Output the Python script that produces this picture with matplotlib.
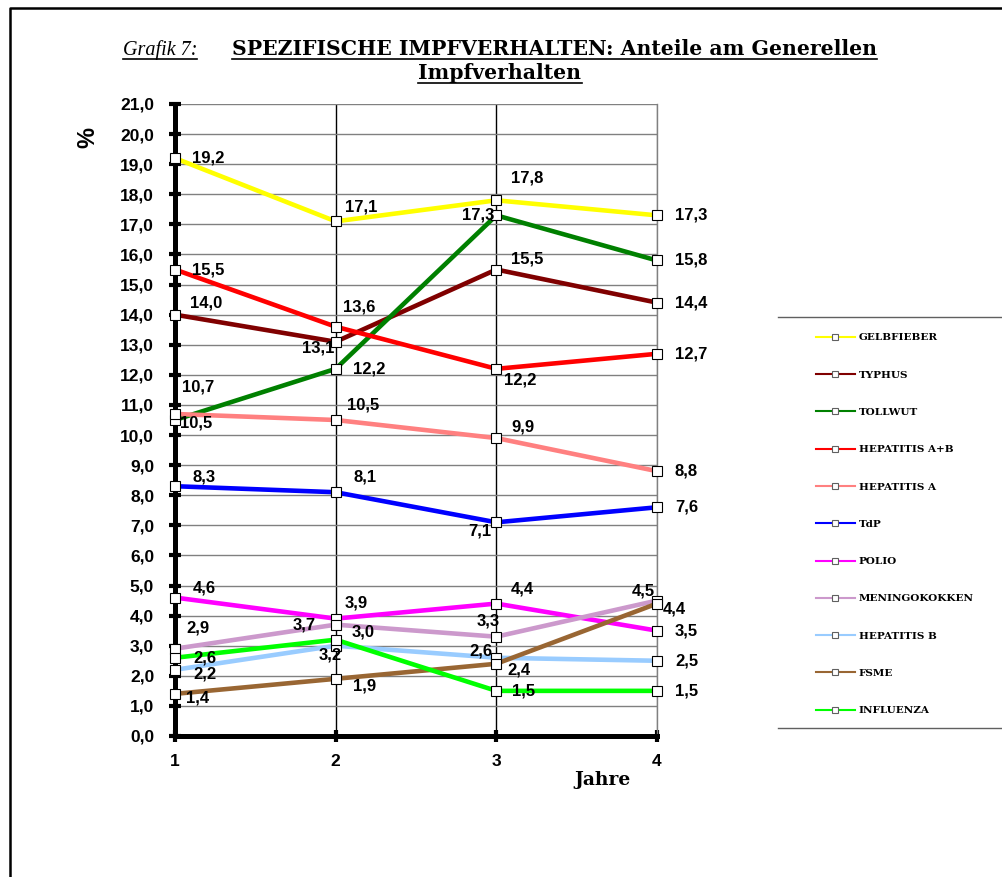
import matplotlib
matplotlib.use("Agg")
import matplotlib.pyplot as plt
from matplotlib.lines import Line2D

W, H = 1003, 877

years = [1, 2, 3, 4]
series_names = ["GELBFIEBER", "TYPHUS", "TOLLWUT", "HEPATITIS A+B", "HEPATITIS A",
                "TdP", "POLIO", "MENINGOKOKKEN", "HEPATITIS B", "FSME", "INFLUENZA"]
gelbfieber = [19.2, 17.1, 17.8, 17.3]
typhus = [14.0, 13.1, 15.5, 14.4]
tollwut = [10.5, 12.2, 17.3, 15.8]
hepatitis_ab = [15.5, 13.6, 12.2, 12.7]
hepatitis_a = [10.7, 10.5, 9.9, 8.8]
tdp = [8.3, 8.1, 7.1, 7.6]
polio = [4.6, 3.9, 4.4, 3.5]
meningokokken = [2.9, 3.7, 3.3, 4.5]
hepatitis_b = [2.2, 3.0, 2.6, 2.5]
fsme = [1.4, 1.9, 2.4, 4.4]
influenza = [2.6, 3.2, 1.5, 1.5]
all_values = [gelbfieber, typhus, tollwut, hepatitis_ab, hepatitis_a, tdp,
              polio, meningokokken, hepatitis_b, fsme, influenza]

colors = ["#FFFF00", "#800000", "#008000", "#FF0000", "#FF8080", "#0000FF",
          "#FF00FF", "#CC99CC", "#99CCFF", "#996633", "#00FF00"]

# label offsets in pixels (dx, dy, ha) for each point
label_pos = [
    [(17, 0, "left"), (9, 14, "left"), (15, 22, "left"), (18, 0, "left")],
    [(15, 12, "left"), (-1, -6, "right"), (15, 11, "left"), (18, 0, "left")],
    [(5, -3, "left"), (17, 0, "left"), (-2, 0, "right"), (18, 0, "left")],
    [(17, 0, "left"), (7, 20, "left"), (8, -11, "left"), (18, 0, "left")],
    [(7, 27, "left"), (11, 15, "left"), (15, 11, "left"), (18, 0, "left")],
    [(18, 9, "left"), (18, 15, "left"), (-5, -9, "right"), (18, 0, "left")],
    [(18, 10, "left"), (9, 16, "left"), (14, 15, "left"), (18, 0, "left")],
    [(11, 21, "left"), (-20, 0, "right"), (3, 16, "right"), (-2, 10, "right")],
    [(18, -4, "left"), (16, 14, "left"), (-4, 7, "right"), (18, 0, "left")],
    [(11, -4, "left"), (17, -7, "left"), (11, -6, "left"), (6, -5, "left")],
    [(18, 0, "left"), (6, -15, "right"), (16, 0, "left"), (18, 0, "left")],
]

def fx(px):
    return px / W

def fy(py):
    return 1 - py / H

fig = plt.figure(figsize=(W / 100, H / 100), dpi=100)
ax = fig.add_axes([fx(175), fy(736), fx(657) - fx(175), fy(104) - fy(736)])

for vals, name, col, pos in zip(all_values, series_names, colors, label_pos):
    ax.plot(years, vals, color=col, lw=3.3, marker="s", ms=7, mfc="white",
            mec="black", mew=0.8, label=name, clip_on=False, zorder=3)
    for x, v, (dx, dy, ha) in zip(years, vals, pos):
        ax.annotate(f"{v:.1f}".replace(".", ","), (x, v), xytext=(dx, dy),
                    textcoords="offset pixels", ha=ha, va="center",
                    fontsize=12, fontweight="bold", family="Liberation Sans",
                    zorder=4)

ax.set_xlim(1, 4)
ax.set_ylim(0, 21)
ax.set_xticks(years)
ax.set_yticks(range(0, 22))
ax.set_yticklabels([f"{v:.1f}".replace(".", ",") for v in range(0, 22)])
for lab in ax.get_xticklabels() + ax.get_yticklabels():
    lab.set_fontweight("bold")
    lab.set_family("Liberation Sans")
    lab.set_fontsize(12.5)

ax.grid(True, axis="y", color="#808080", lw=1)
ax.grid(True, axis="x", color="black", lw=1)
ax.xaxis.get_gridlines()[-1].set_color("#808080")
ax.set_axisbelow(True)

ax.spines["top"].set_visible(False)
ax.spines["right"].set_color("#808080")
ax.spines["right"].set_linewidth(1)
ax.spines["left"].set_linewidth(3.6)
ax.spines["bottom"].set_linewidth(3.6)
ax.tick_params(axis="y", direction="inout", length=8, width=3, pad=11)
ax.tick_params(axis="x", direction="inout", length=8, width=3, pad=9)

fig.text(fx(88), fy(137), "%", rotation=90, ha="center", va="center",
         fontsize=17, fontweight="bold", family="Liberation Sans")
fig.text(fx(603), fy(780), "Jahre", ha="center", va="center",
         fontsize=13.5, fontweight="bold", family="DejaVu Serif")

# title
t1 = fig.text(fx(123), fy(55), "Grafik 7:", ha="left", va="baseline",
              fontsize=14.5, style="italic", family="Liberation Serif")
t2 = fig.text(fx(232), fy(55), "SPEZIFISCHE IMPFVERHALTEN: Anteile am Generellen",
              ha="left", va="baseline", fontsize=14.7, fontweight="bold",
              family="DejaVu Serif")
t3 = fig.text(fx(500), fy(79), "Impfverhalten", ha="center", va="baseline",
              fontsize=14.7, fontweight="bold", family="DejaVu Serif")

leg = fig.legend(loc="upper left", bbox_to_anchor=(fx(816), fy(333)),
                 frameon=False, borderpad=0, borderaxespad=0,
                 handlelength=3.7, handletextpad=0.4, labelspacing=2.69,
                 prop={"family": "DejaVu Serif", "weight": "bold", "size": 7.5})
for h in leg.legend_handles:
    h.set_linewidth(1.5)
    h.set_markersize(4)
    h.set_markeredgecolor("#606060")

fig.canvas.draw()
r = fig.canvas.get_renderer()
for t, uy in ((t1, 58.5), (t2, 58.5), (t3, 82.5)):
    bb = t.get_window_extent(r)
    fig.add_artist(Line2D([bb.x0 / W, bb.x1 / W], [fy(uy), fy(uy)],
                          color="black", lw=1.2))

# legend top/bottom rules and outer frame
fig.add_artist(Line2D([fx(778), fx(1003)], [fy(317), fy(317)], color="#606060", lw=1))
fig.add_artist(Line2D([fx(778), fx(1003)], [fy(728), fy(728)], color="#606060", lw=1))
fig.add_artist(Line2D([fx(10), fx(10), fx(1003)], [fy(877), fy(8), fy(8)],
                      color="black", lw=1.8))

fig.savefig("out.png", dpi=100)
